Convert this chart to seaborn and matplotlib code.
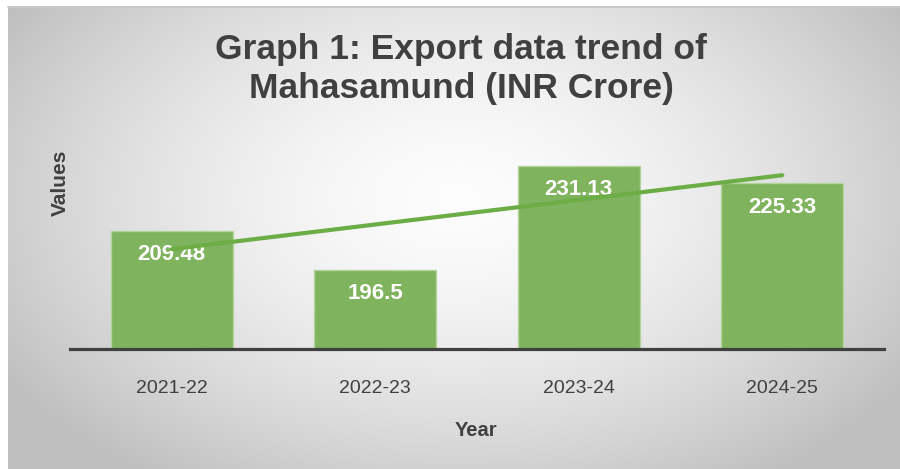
import numpy as np
import matplotlib
matplotlib.use("Agg")
import matplotlib.pyplot as plt
import seaborn as sns
import pandas as pd

years = ["2021-22", "2022-23", "2023-24", "2024-25"]
values = [209.48, 196.5, 231.13, 225.33]
title = "Graph 1: Export data trend of\nMahasamund (INR Crore)"
xlabel = "Year"
ylabel = "Values"

sns.set_theme(style="white")
plt.rcParams['font.family'] = ['Liberation Sans', 'DejaVu Sans']

BAR = "#80b35e"
EDGE = "#b3d59c"
TREND = "#6cad46"
TXT = "#404040"

fig = plt.figure(figsize=(9, 4.69), dpi=100)
fig.patch.set_facecolor("white")

# radial gradient background
bg = fig.add_axes([8/900, 0, 892/900, 461/469], zorder=-10)
h, w = 461, 892
yy, xx = np.mgrid[0:h, 0:w]
cx, cy = 450, 190
r = np.sqrt(((xx - cx) / 520.0) ** 2 + ((yy - cy) / 330.0) ** 2)
shade = np.clip(0.99 - 0.23 * r ** 1.6, 0.75, 1.0)
bg.imshow(np.dstack([shade] * 3), aspect="auto", extent=[0, 1, 0, 1])
bg.axis("off")
fig.add_artist(plt.Line2D([8/900, 1], [1 - 7/469, 1 - 7/469], color="#bdbdbd", lw=1.2))

ax = fig.add_axes([70/900, 120/469, 814/900, 210/469])
ax.set_facecolor("none")
df = pd.DataFrame({"Year": years, "Value": values})
sns.barplot(data=df, x="Year", y="Value", color=BAR, width=0.6,
            edgecolor=EDGE, linewidth=1.0, saturation=1, ax=ax)
ax.set_ylim(170, 240)
ax.set_xlim(-0.5, 3.5)

for i, v in enumerate(values):
    ax.annotate(f"{v:g}", (i, v), xytext=(0, -17.5), textcoords="offset points",
                ha="center", va="center", color="white", fontsize=16,
                fontweight="bold", zorder=4)

xi = np.arange(len(values))
m, b = np.polyfit(xi, values, 1)
ax.plot(xi[[0, -1]], m * xi[[0, -1]] + b, color=TREND, lw=3, solid_capstyle="round", zorder=5)

for s in ["top", "right", "left"]:
    ax.spines[s].set_visible(False)
ax.spines["bottom"].set_color(TXT)
ax.spines["bottom"].set_linewidth(2.3)
ax.set_yticks([])
ax.tick_params(axis="x", length=0, pad=22, labelsize=14, labelcolor=TXT)
ax.set_xlabel("")
ax.set_ylabel("")

fig.text(476/900, 1 - 431/469, xlabel, ha="center", va="center", fontsize=14.5,
         fontweight="bold", color=TXT)
fig.text(60/900, 1 - 183/469, ylabel, ha="center", va="center", rotation=90,
         fontsize=15, fontweight="bold", color=TXT)
fig.text(461/900, 1 - 69/469, title, ha="center", va="center", fontsize=25.5,
         fontweight="bold", color=TXT, linespacing=1.22)

fig.savefig("out.png", dpi=100)
